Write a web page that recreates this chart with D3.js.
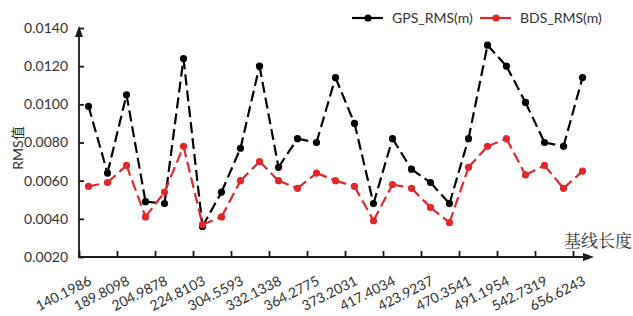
<!DOCTYPE html>
<html><head><meta charset="utf-8">
<script src="https://cdn.jsdelivr.net/npm/d3@7"></script>
<style>body{margin:0;background:#fff}svg{display:block}</style>
</head><body><svg id="c" width="633" height="316"></svg>
<script>
const tickLabels = ["140.1986","189.8098","204.9878","224.8103","304.5593","332.1338","364.2775","373.2031","417.4034","423.9237","470.3541","491.1954","542.7319","656.6243"];
const gpsRMS = [0.0099,0.0064,0.0105,0.0049,0.0048,0.0124,0.0036,0.0054,0.0077,0.0120,0.0067,0.0082,0.0080,0.0114,0.0090,0.0048,0.0082,0.0066,0.0059,0.0048,0.0082,0.0131,0.0120,0.0101,0.0080,0.0078,0.0114];
const bdsRMS = [0.0057,0.0059,0.0068,0.0041,0.0054,0.0078,0.0037,0.0041,0.0060,0.0070,0.0060,0.0056,0.0064,0.0060,0.0057,0.0039,0.0058,0.0056,0.0046,0.0038,0.0067,0.0078,0.0082,0.0063,0.0068,0.0056,0.0065];
const yTicks = [0.0020,0.0040,0.0060,0.0080,0.0100,0.0120,0.0140];
const seriesNames = ["GPS_RMS(m)","BDS_RMS(m)"];
const colors = ["#000000","#e3272b"];

const svg = d3.select("#c");
const L = 79, R = 592, T = 28, B = 257;
const n = gpsRMS.length;
const x = d3.scaleLinear().domain([0, n]).range([L, R]);
const y = d3.scaleLinear().domain([0.002, 0.014]).range([B, T]);
const font = "Lato, 'Open Sans', sans-serif";
const axisColor = "#1a1a1a";
const textColor = "#333";

// series
[gpsRMS, bdsRMS].forEach((vals, si) => {
  const g = svg.append("g");
  for (let i = 0; i < vals.length - 1; i++) {
    g.append("line")
      .attr("x1", x(i + 0.5)).attr("y1", y(vals[i]))
      .attr("x2", x(i + 1.5)).attr("y2", y(vals[i + 1]))
      .attr("stroke", colors[si]).attr("stroke-width", 2.2)
      .attr("stroke-dasharray", "11,5");
  }
  g.selectAll("circle").data(vals).join("circle")
    .attr("cx", (d, i) => x(i + 0.5)).attr("cy", d => y(d))
    .attr("r", 3.6).attr("fill", colors[si]);
});

// y axis
const ya = svg.append("g").attr("transform", `translate(${L},0)`)
  .call(d3.axisLeft(y).tickValues(yTicks).tickSizeInner(-5).tickSizeOuter(0).tickPadding(11).tickFormat(d3.format(".4f")));
ya.select(".domain").remove();
ya.selectAll(".tick line").attr("stroke", axisColor).attr("stroke-width", 1.8);
ya.selectAll("text").attr("font-family", font).attr("font-size", 14).attr("fill", textColor);
svg.append("line").attr("x1", L).attr("x2", L).attr("y1", B + 1).attr("y2", T + 4)
  .attr("stroke", axisColor).attr("stroke-width", 1.8);
svg.append("path").attr("d", `M${L - 4},${T + 9} L${L},${T - 2} L${L + 4},${T + 9} Z`).attr("fill", axisColor);

// x axis
const tickIdx = d3.range(0, n, 2);
const xa = svg.append("g").attr("transform", `translate(0,${B})`)
  .call(d3.axisBottom(x).tickValues(tickIdx).tickSizeInner(-6).tickSizeOuter(0).tickFormat(""));
xa.select(".domain").remove();
xa.selectAll(".tick line").attr("stroke", axisColor).attr("stroke-width", 1.8);
svg.append("line").attr("x1", L - 1).attr("x2", R - 6).attr("y1", B).attr("y2", B)
  .attr("stroke", axisColor).attr("stroke-width", 1.8);
svg.append("path").attr("d", `M${R - 9},${B - 4} L${R + 2},${B} L${R - 9},${B + 4} Z`).attr("fill", axisColor);

svg.append("g").selectAll("text").data(tickLabels).join("text")
  .attr("transform", (d, i) => `translate(${x(tickIdx[i] + 0.5) + 4},${B + 27}) rotate(-27)`)
  .attr("text-anchor", "end").attr("font-family", font).attr("font-size", 14).attr("fill", textColor)
  .text(d => d);

// axis titles
svg.append("text").attr("transform", `translate(23,148) rotate(-90)`)
  .attr("text-anchor", "middle").attr("font-family", font + ", 'Noto Sans CJK SC'").attr("font-size", 14).attr("fill", textColor)
  .text("RMS值");
svg.append("text").attr("x", 632).attr("y", 247).attr("text-anchor", "end")
  .attr("font-family", "'Noto Serif CJK SC','Noto Sans CJK SC', serif").attr("font-size", 17).attr("fill", textColor)
  .text("基线长度");

// legend
const legX = [352, 480];
seriesNames.forEach((name, i) => {
  const g = svg.append("g").attr("transform", `translate(${legX[i]},18)`);
  g.append("line").attr("x1", 0).attr("x2", 31).attr("y1", 0).attr("y2", 0).attr("stroke", colors[i]).attr("stroke-width", 2.2);
  g.append("circle").attr("cx", 16).attr("cy", 0).attr("r", 3.6).attr("fill", colors[i]);
  g.append("text").attr("x", 40).attr("y", 5).attr("font-family", font).attr("font-size", 14).attr("fill", textColor).text(name);
});
</script></body></html>
